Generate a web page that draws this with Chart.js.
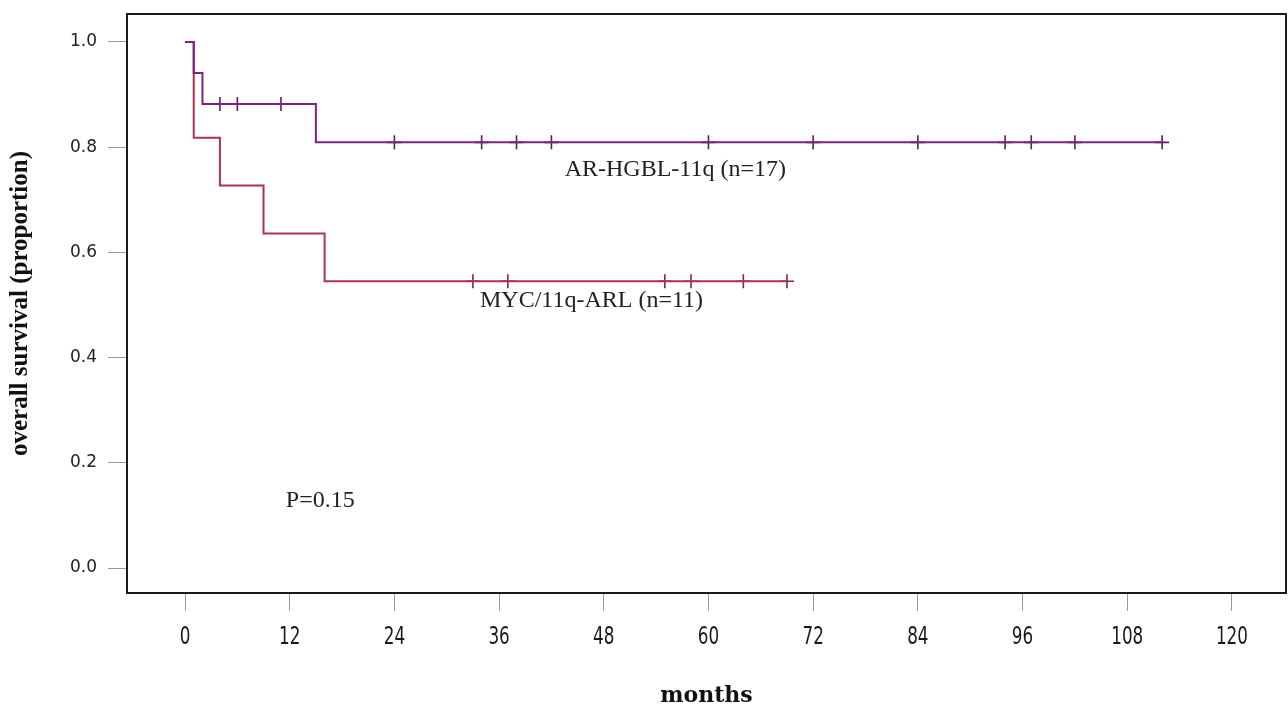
<!DOCTYPE html>
<html>
<head>
<meta charset="utf-8">
<script src="https://cdn.jsdelivr.net/npm/chart.js@4.4.1/dist/chart.umd.min.js"></script>
<style>
  html, body { margin: 0; padding: 0; background: #fff; }
  #wrap { width: 1288px; height: 709px; }
</style>
</head>
<body>
<div id="wrap"><canvas id="kmChart" width="1288" height="709"></canvas></div>
<script>
// tick labels
const monthTicks = [0, 12, 24, 36, 48, 60, 72, 84, 96, 108, 120];
const survTicks = [0, 0.2, 0.4, 0.6, 0.8, 1.0];

// AR-HGBL-11q (n=17): step points (event times) and censored times
const hgblTimes = [0, 1, 2, 15, 112];
const hgblSurv = [1, 0.941, 0.882, 0.809, 0.809];
const hgblCensor = [4, 6, 11, 24, 34, 38, 42, 60, 72, 84, 94, 97, 102, 112];

// MYC/11q-ARL (n=11)
const mycTimes = [0, 1, 4, 9, 16, 69];
const mycSurv = [1, 0.818, 0.727, 0.636, 0.545, 0.545];
const mycCensor = [33, 37, 55, 58, 64, 69];

// text notes placed in data coordinates
const notes = [
  { text: 'AR-HGBL-11q (n=17)', x: 56.2, y: 0.758 },
  { text: 'MYC/11q-ARL (n=11)', x: 46.6, y: 0.508 },
  { text: 'P=0.15', x: 15.5, y: 0.128 }
];

const purple = '#7f2282';
const red = '#ad3252';

function steps(times, surv) {
  return times.map((t, i) => ({ x: t, y: surv[i] }));
}
function censorPts(times, stepT, stepS) {
  return times.map(t => {
    let s = stepS[0];
    for (let i = 0; i < stepT.length; i++) if (stepT[i] <= t) s = stepS[i];
    return { x: t, y: s };
  });
}

// keep the plot box where the original has it (right edge 2px from canvas edge)
const fixRight = {
  id: 'fixRight',
  afterLayout(chart) {
    const a = chart.chartArea, x = chart.scales.x;
    const r = chart.width - 2;
    a.right = r; a.width = r - a.left;
    x.right = r; x.width = r - x.left;
    x.configure();
  }
};

const boxAndNotes = {
  id: 'boxAndNotes',
  afterDatasetsDraw(chart) {
    const { ctx, chartArea: a, scales } = chart;
    ctx.save();
    ctx.strokeStyle = '#1a1a1a';
    ctx.lineWidth = 2;
    ctx.strokeRect(a.left, a.top, a.right - a.left, a.bottom - a.top);

    ctx.fillStyle = '#222';
    ctx.font = '24px "Liberation Serif", serif';
    ctx.textAlign = 'center';
    ctx.textBaseline = 'middle';
    notes.forEach(n => {
      ctx.fillText(n.text, scales.x.getPixelForValue(n.x), scales.y.getPixelForValue(n.y));
    });

    // narrow month labels under the x ticks
    ctx.fillStyle = '#1a1a1a';
    ctx.font = '24px "DejaVu Sans", sans-serif';
    monthTicks.forEach(m => {
      const px = scales.x.getPixelForValue(m);
      ctx.save();
      ctx.translate(px, 638);
      ctx.scale(0.7, 1);
      ctx.fillText(String(m), 0, 0);
      ctx.restore();
    });
    ctx.restore();
  }
};

new Chart(document.getElementById('kmChart').getContext('2d'), {
  type: 'line',
  data: {
    datasets: [
      {
        label: 'AR-HGBL-11q',
        data: steps(hgblTimes, hgblSurv),
        borderColor: purple,
        borderWidth: 2,
        stepped: true,
        pointRadius: 0,
        fill: false
      },
      {
        label: 'MYC/11q-ARL',
        data: steps(mycTimes, mycSurv),
        borderColor: red,
        borderWidth: 2,
        stepped: true,
        pointRadius: 0,
        fill: false
      },
      {
        label: 'AR-HGBL-11q censored',
        data: censorPts(hgblCensor, hgblTimes, hgblSurv),
        showLine: false,
        pointStyle: 'cross',
        pointRadius: 7,
        pointBorderWidth: 1.6,
        pointBorderColor: '#5e1a63'
      },
      {
        label: 'MYC/11q-ARL censored',
        data: censorPts(mycCensor, mycTimes, mycSurv),
        showLine: false,
        pointStyle: 'cross',
        pointRadius: 7,
        pointBorderWidth: 1.6,
        pointBorderColor: '#852643'
      }
    ]
  },
  options: {
    responsive: false,
    animation: false,
    layout: { padding: { top: 14, right: 2, left: 0, bottom: 0 } },
    plugins: { legend: { display: false }, tooltip: { enabled: false } },
    scales: {
      x: {
        type: 'linear',
        min: -6.65,
        max: 126.2,
        afterBuildTicks: s => { s.ticks = monthTicks.map(v => ({ value: v })); },
        afterFit: s => { s.height = 116; s.paddingLeft = 0; s.paddingRight = 0; },
        border: { display: false },
        grid: { drawOnChartArea: false, tickLength: 18, color: '#9a9a9a', lineWidth: 1 },
        ticks: { display: false },
        title: {
          display: true,
          text: 'months',
          color: '#111',
          padding: 0,
          font: { family: '"DejaVu Serif", serif', size: 22, weight: 'bold' }
        }
      },
      y: {
        min: -0.0475,
        max: 1.053,
        afterBuildTicks: s => { s.ticks = survTicks.map(v => ({ value: v })); },
        afterFit: s => { s.width = 127; s.paddingTop = 0; s.paddingBottom = 0; },
        border: { display: false },
        grid: { drawOnChartArea: false, tickLength: 19, color: '#9a9a9a', lineWidth: 1 },
        ticks: {
          padding: 11,
          color: '#222',
          callback: v => v.toFixed(1),
          font: { family: '"DejaVu Sans", sans-serif', size: 17 }
        },
        title: {
          display: true,
          text: 'overall survival (proportion)',
          color: '#111',
          padding: 6,
          font: { family: '"Liberation Serif", serif', size: 25, weight: 'bold' }
        }
      }
    }
  },
  plugins: [fixRight, boxAndNotes]
});
</script>
</body>
</html>
